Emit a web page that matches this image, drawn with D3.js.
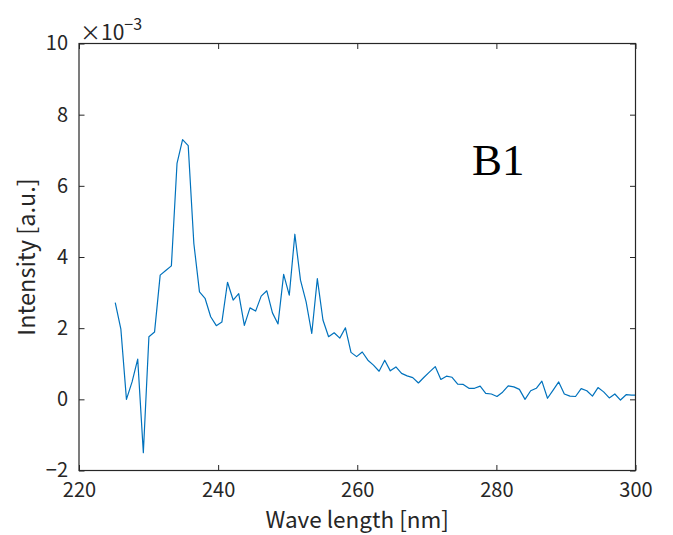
<!DOCTYPE html>
<html>
<head>
<meta charset="utf-8">
<script src="https://cdn.jsdelivr.net/npm/d3@7"></script>
<style>
  body { margin: 0; background: #fff; }
  svg { display: block; }
</style>
</head>
<body>
<script>
// wavelength grid [nm]
const wavelength = [
  225.21, 226.02, 226.82, 227.63, 228.44, 229.25, 230.05, 230.86, 231.67, 232.47,
  233.28, 234.09, 234.89, 235.70, 236.51, 237.32, 238.12, 238.93, 239.74, 240.54,
  241.35, 242.16, 242.96, 243.77, 244.58, 245.39, 246.19, 247.00, 247.81, 248.61,
  249.42, 250.23, 251.03, 251.84, 252.65, 253.46, 254.26, 255.07, 255.88, 256.68,
  257.49, 258.30, 259.10, 259.91, 260.72, 261.53, 262.33, 263.14, 263.95, 264.75,
  265.56, 266.37, 267.17, 267.98, 268.79, 269.60, 270.40, 271.21, 272.02, 272.82,
  273.63, 274.44, 275.24, 276.05, 276.86, 277.67, 278.47, 279.28, 280.09, 280.89,
  281.70, 282.51, 283.31, 284.12, 284.93, 285.74, 286.54, 287.35, 288.16, 288.96,
  289.77, 290.58, 291.38, 292.19, 293.00, 293.81, 294.61, 295.42, 296.23, 297.03,
  297.84, 298.65, 299.45, 300.26
]
// intensity, in units of 1e-3
const intensity = [
  2.72, 1.97, 0.00, 0.49, 1.13, -1.50, 1.76, 1.89, 3.49, 3.62,
  3.75, 6.63, 7.30, 7.13, 4.38, 3.02, 2.84, 2.32, 2.07, 2.17,
  3.29, 2.79, 2.97, 2.08, 2.57, 2.48, 2.90, 3.05, 2.43, 2.12,
  3.51, 2.93, 4.64, 3.35, 2.74, 1.85, 3.39, 2.23, 1.76, 1.87,
  1.72, 2.01, 1.32, 1.20, 1.33, 1.10, 0.96, 0.79, 1.10, 0.80,
  0.91, 0.73, 0.66, 0.61, 0.46, 0.62, 0.77, 0.92, 0.56, 0.65,
  0.62, 0.43, 0.42, 0.31, 0.31, 0.37, 0.17, 0.15, 0.08, 0.20,
  0.38, 0.35, 0.28, 0.00, 0.24, 0.31, 0.51, 0.03, 0.26, 0.49,
  0.15, 0.09, 0.08, 0.30, 0.24, 0.09, 0.33, 0.21, 0.04, 0.15,
  -0.02, 0.13, 0.12, 0.12
]
const xTicks = [220, 240, 260, 280, 300]
const yTicks = [-2, 0, 2, 4, 6, 8, 10]
const xLabel = "Wave length [nm]"
const yLabel = "Intensity [a.u.]"
const tag = "B1"

const width = 673, height = 535
const margin = {top: 43.5, right: 37.5, bottom: 64.5, left: 79}
const axisColor = "#262626"
const font = "'Noto Sans CJK JP', 'Noto Sans', sans-serif"

const svg = d3.select("body").append("svg")
  .attr("width", width)
  .attr("height", height)

const x = d3.scaleLinear().domain([220, 300]).range([margin.left, width - margin.right])
const y = d3.scaleLinear().domain([-2, 10]).range([height - margin.bottom, margin.top])

svg.append("clipPath").attr("id", "plotclip")
  .append("rect")
  .attr("x", x(220)).attr("y", y(10))
  .attr("width", x(300) - x(220)).attr("height", y(-2) - y(10))

// data line
const line = d3.line().x((d, i) => x(wavelength[i])).y(d => y(d))
svg.append("path")
  .datum(intensity)
  .attr("clip-path", "url(#plotclip)")
  .attr("fill", "none")
  .attr("stroke", "#0072BD")
  .attr("stroke-width", 1.2)
  .attr("stroke-linejoin", "round")
  .attr("d", line)

// axes, MATLAB style: box with inward ticks on all sides
const tickLen = 5.5
function styleAxis(g) {
  g.select(".domain").remove()
  g.selectAll(".tick line").attr("stroke", axisColor).attr("stroke-width", 1)
  g.selectAll(".tick text")
    .attr("fill", axisColor)
    .style("font-family", font)
    .style("font-size", "20px")
}

svg.append("g")
  .attr("transform", `translate(0,${y(-2)})`)
  .call(d3.axisBottom(x).tickValues(xTicks).tickSize(-tickLen).tickPadding(12))
  .call(styleAxis)

svg.append("g")
  .attr("transform", `translate(0,${y(10)})`)
  .call(d3.axisTop(x).tickValues(xTicks).tickSize(-tickLen).tickFormat(""))
  .call(styleAxis)

svg.append("g")
  .attr("transform", `translate(${x(220)},0)`)
  .call(d3.axisLeft(y).tickValues(yTicks).tickSize(-tickLen).tickPadding(11)
    .tickFormat(d => d < 0 ? "\u2212" + Math.abs(d) : d))
  .call(styleAxis)

svg.append("g")
  .attr("transform", `translate(${x(300)},0)`)
  .call(d3.axisRight(y).tickValues(yTicks).tickSize(-tickLen).tickFormat(""))
  .call(styleAxis)

svg.append("rect")
  .attr("x", x(220)).attr("y", y(10))
  .attr("width", x(300) - x(220)).attr("height", y(-2) - y(10))
  .attr("fill", "none")
  .attr("stroke", axisColor)
  .attr("stroke-width", 1.2)

// exponent label
const expo = svg.append("text")
  .attr("x", x(220) + 1).attr("y", y(10) - 4)
  .attr("fill", axisColor)
  .style("font-family", font)
  .style("font-size", "21px")
expo.append("tspan").text("\u00d710")
expo.append("tspan").attr("dy", -10).style("font-size", "16px").text("\u22123")

// axis labels
svg.append("text")
  .attr("x", (x(220) + x(300)) / 2)
  .attr("y", 528)
  .attr("text-anchor", "middle")
  .attr("fill", axisColor)
  .style("font-family", font)
  .style("font-size", "22.5px")
  .text(xLabel)

svg.append("text")
  .attr("transform", `translate(35,${(y(10) + y(-2)) / 2}) rotate(-90)`)
  .attr("text-anchor", "middle")
  .attr("fill", axisColor)
  .style("font-family", font)
  .style("font-size", "23.5px")
  .text(yLabel)

// panel tag
svg.append("text")
  .attr("x", 472)
  .attr("y", 175)
  .attr("fill", "#000")
  .style("font-family", "'Liberation Serif', 'DejaVu Serif', serif")
  .style("font-size", "45px")
  .text(tag)
</script>
</body>
</html>
